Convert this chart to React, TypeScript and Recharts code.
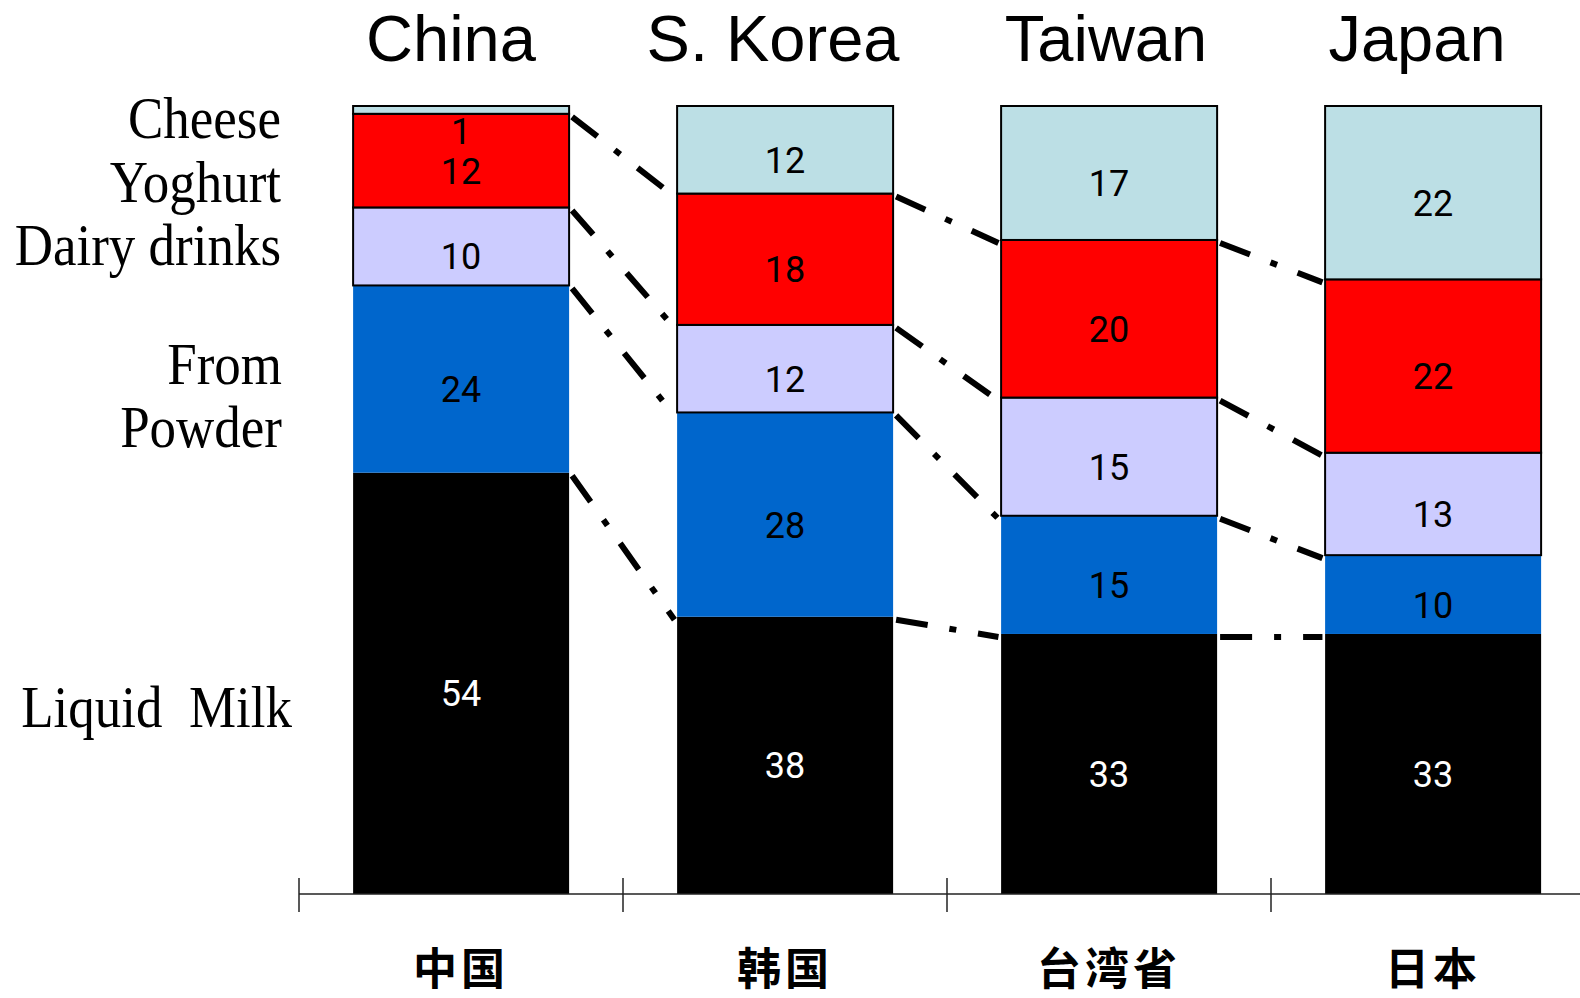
import React from 'react';
import { BarChart, Bar, XAxis, YAxis } from 'recharts';

// Market share of dairy product types (percent of consumption), by market
const categories = ['China', 'S. Korea', 'Taiwan', 'Japan'];
const categoryLabelsZh = ['中国', '韩国', '台湾省', '日本'];

const liquidMilk = [54, 38, 33, 33];
const fromPowder = [24, 28, 15, 10];
const dairyDrinks = [10, 12, 15, 13];
const yoghurt = [12, 18, 20, 22];
const cheese = [1, 12, 17, 22];

const seriesKeys = ['liquidMilk', 'fromPowder', 'dairyDrinks', 'yoghurt', 'cheese'];
const seriesValues = [liquidMilk, fromPowder, dairyDrinks, yoghurt, cheese];

const rows = categories.map((name, i) => {
  const row: Record<string, string | number> = { name };
  seriesKeys.forEach((k, si) => {
    row[k] = seriesValues[si][i];
  });
  return row;
});

const SERIES_STYLE = [
  { fill: '#000000', stroke: 'none', text: '#ffffff' },
  { fill: '#0066CC', stroke: 'none', text: '#000000' },
  { fill: '#CCCCFF', stroke: '#000000', text: '#000000' },
  { fill: '#FF0000', stroke: '#000000', text: '#000000' },
  { fill: '#BCDFE5', stroke: '#000000', text: '#000000' },
];

const GAP = 0.167;
const SANS = "'Liberation Sans', Arial, sans-serif";
const SERIF = "'Liberation Serif', 'Times New Roman', serif";

// horizontal nudge of each market title relative to its bar centre
const TITLE_SHIFT = [-10, -12, -3, -16];

function cumulativeTop(index: number, si: number) {
  const vals = seriesValues.map((s) => s[index]);
  const total = vals.reduce((a, b) => a + b, 0);
  const top = vals.slice(0, si + 1).reduce((a, b) => a + b, 0);
  return { top: top / total, frac: vals[si] / total };
}

// Each stacked segment: rectangle, its value, and the dash-dot link from its
// upper boundary to the same boundary on the next market's bar.
function makeSegmentShape(si: number) {
  return (props: any) => {
    const { x, y, width, height, index } = props;
    const st = SERIES_STYLE[si];
    const { top, frac } = cumulativeTop(index, si);
    const plotH = frac > 0 ? height / frac : 0;
    const py = (r: number) => y + (top - r) * plotH;
    let link: React.ReactNode = null;
    if (si < seriesKeys.length - 1 && index < categories.length - 1) {
      const next = cumulativeTop(index + 1, si);
      const band = width / (1 - 2 * GAP);
      link = (
        <line
          x1={x + width + 3}
          y1={y + 3}
          x2={x + band - 3}
          y2={py(next.top) + 3}
          stroke="#000"
          strokeWidth={6}
          strokeDasharray="32 22 7 22"
        />
      );
    }
    const value = seriesValues[si][index];
    const labelY = height < 40 ? y + 38 : y + height / 2 + 23;
    return (
      <g>
        <rect
          x={x}
          y={y}
          width={width}
          height={height}
          fill={st.fill}
          stroke={st.stroke}
          strokeWidth={st.stroke === 'none' ? 0 : 2}
        />
        {link}
        <text
          x={x + width / 2}
          y={labelY}
          textAnchor="middle"
          fontFamily="Roboto, 'Noto Sans', sans-serif"
          fontSize={36}
          fill={st.text}
        >
          {value}
        </text>
      </g>
    );
  };
}

const TitleTick = (props: any) => {
  const { x, y, payload, index } = props;
  return (
    <text
      x={x + (TITLE_SHIFT[index] ?? -10)}
      y={y - 45}
      textAnchor="middle"
      fontFamily={SANS}
      fontSize={65}
      fill="#000"
    >
      {payload.value}
    </text>
  );
};

const ZhTick = (props: any) => {
  const { x, y, payload, index } = props;
  const half = payload && typeof payload.offset === 'number' ? payload.offset : 162;
  return (
    <g>
      <line x1={x - half} x2={x - half} y1={y - 16} y2={y + 18} stroke="#222" strokeWidth={1.5} />
      <text
        x={x}
        y={y + 91}
        textAnchor="middle"
        fontFamily="'Noto Sans CJK SC', sans-serif"
        fontWeight={700}
        fontSize={44}
        letterSpacing={4}
        fill="#000"
      >
        {categoryLabelsZh[index]}
      </text>
    </g>
  );
};

const seriesNames = [
  { text: 'Cheese', right: 281, baseline: 138 },
  { text: 'Yoghurt', right: 281, baseline: 202 },
  { text: 'Dairy drinks', right: 281, baseline: 265 },
  { text: 'From', right: 282, baseline: 384 },
  { text: 'Powder', right: 282, baseline: 447 },
  { text: 'Liquid  Milk', right: 292, baseline: 727 },
];

export default function App() {
  return (
    <div
      style={{
        position: 'fixed',
        left: 0,
        top: 0,
        width: 1580,
        height: 998,
        overflow: 'hidden',
        background: '#fff',
      }}
    >
      <BarChart
        width={1600}
        height={998}
        data={rows}
        stackOffset="expand"
        barCategoryGap={`${GAP * 100}%`}
        margin={{ top: 46, right: 5, bottom: 44, left: 299 }}
      >
        <XAxis
          xAxisId="top"
          dataKey="name"
          orientation="top"
          height={60}
          tickSize={0}
          tickMargin={0}
          tickLine={false}
          axisLine={false}
          interval={0}
          tick={<TitleTick />}
        />
        <XAxis
          dataKey="name"
          orientation="bottom"
          height={60}
          tickSize={0}
          tickMargin={0}
          tickLine={false}
          axisLine={{ stroke: '#222', strokeWidth: 1.5 }}
          interval={0}
          tick={<ZhTick />}
        />
        <YAxis hide domain={[0, 1]} />
        {seriesKeys.map((k, si) => (
          <Bar
            key={k}
            dataKey={k}
            stackId="share"
            fill={SERIES_STYLE[si].fill}
            isAnimationActive={false}
            shape={makeSegmentShape(si)}
          />
        ))}
      </BarChart>
      <svg style={{ position: 'absolute', left: 0, top: 0 }} width={320} height={998}>
        {seriesNames.map((s) => (
          <text
            key={s.text}
            transform={`translate(${s.right},${s.baseline}) scale(1,1.12)`}
            textAnchor="end"
            fontFamily={SERIF}
            fontSize={53}
            fill="#000"
            style={{ whiteSpace: 'pre' }}
          >
            {s.text}
          </text>
        ))}
      </svg>
    </div>
  );
}
